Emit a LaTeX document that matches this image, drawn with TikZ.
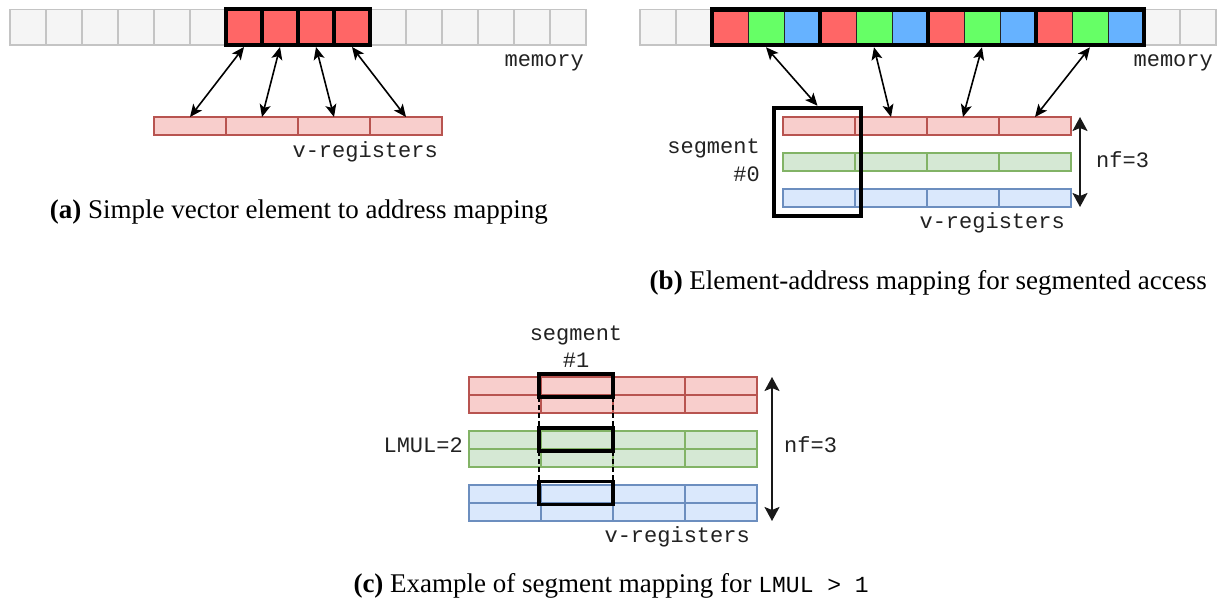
\documentclass[tikz,border=0pt]{standalone}
\usepackage{fontspec}
\setmainfont{Liberation Serif}
\newfontfamily\monof{Liberation Mono}
\usetikzlibrary{arrows.meta}
\definecolor{memfill}{HTML}{F5F5F5}
\definecolor{memdraw}{HTML}{C4C4C4}
\definecolor{hr}{HTML}{FF6666}
\definecolor{hg}{HTML}{66FF66}
\definecolor{hb}{HTML}{66B2FF}
\definecolor{rf}{HTML}{F8CECC}\definecolor{rd}{HTML}{B85450}
\definecolor{gf}{HTML}{D5E8D4}\definecolor{gd}{HTML}{82B366}
\definecolor{bf}{HTML}{DAE8FC}\definecolor{bd}{HTML}{6C8EBF}
\definecolor{txt}{HTML}{222222}
\begin{document}
\begin{tikzpicture}[x=1pt,y=-1pt,
  memcell/.style={draw=memdraw, fill=memfill, line width=1.3pt, minimum width=36pt, minimum height=35.5pt, inner sep=0pt, outer sep=0pt},
  hicell/.style={draw=black, line width=4pt, fill=#1, minimum width=36pt, minimum height=35.5pt, inner sep=0pt},
  segcell/.style={draw=black!85, line width=1pt, fill=#1, minimum width=36pt, minimum height=35.5pt, inner sep=0pt},
  grpbox/.style={draw=black, line width=4.5pt, minimum width=108pt, minimum height=35.5pt, inner sep=0pt},
  vreg/.style n args={2}{draw=#2, fill=#1, line width=1.2pt, minimum width=72pt, minimum height=18pt, inner sep=0pt, outer sep=0pt},
  segbox/.style={draw=black, line width=4.5pt, inner sep=0pt},
  segsmall/.style={draw=black, line width=3.5pt, minimum width=74pt, minimum height=23pt, inner sep=0pt, outer sep=0pt},
  maparrow/.style={{Stealth[length=12.5pt,width=11pt,inset=3pt]}-{Stealth[length=12.5pt,width=11pt,inset=3pt]}, line width=1.6pt},
  nfarrow/.style={{Stealth[length=14pt,width=15pt,inset=3pt]}-{Stealth[length=14pt,width=15pt,inset=3pt]}, line width=2pt, draw=black!90},
  dashline/.style={line width=1.8pt, dash pattern=on 5pt off 3pt},
  lbl/.style={font=\monof\fontsize{22}{27.7}\selectfont, text=txt, inner sep=0pt},
  captext/.style={font=\fontsize{27}{31}\selectfont, inner sep=0pt}
]
\useasboundingbox (0,0) rectangle (1221,609);

% ---------------- (a) ----------------
\foreach \i in {0,...,15} \node[memcell] (ma\i) at ({28+36*\i},27.25) {};
\node[hicell=hr] (ra0) at (244,27.25) {};
\node[hicell=hr] (ra1) at (280,27.25) {};
\node[hicell=hr] (ra2) at (316,27.25) {};
\node[hicell=hr] (ra3) at (352,27.25) {};
\foreach \i in {0,...,3} \node[vreg={rf}{rd}] (va\i) at ({190+72*\i},126) {};
\foreach \i in {0,...,3} \draw[maparrow] (ra\i.south) -- (va\i.north);
\node[lbl, anchor=base east] (memA) at (584,67) {memory};
\node[lbl, anchor=base east] (vrA) at (438,158) {v-registers};
\node[captext, anchor=base east] (capA) at (548,219) {\textbf{(a)} Simple vector element to address mapping};

% ---------------- (b) ----------------
\foreach \i in {0,...,15} \node[memcell] (mb\i) at ({658+36*\i},27.25) {};
\foreach \g in {0,...,3} {
  \node[segcell=hr] (sr\g) at ({730+108*\g},27.25) {};
  \node[segcell=hg] (sg\g) at ({766+108*\g},27.25) {};
  \node[segcell=hb] (sb\g) at ({802+108*\g},27.25) {};
  \node[grpbox] (grp\g) at ({766+108*\g},27.25) {};
}
\foreach \i in {0,...,3} {
  \node[vreg={rf}{rd}] (vbr\i) at ({819+72*\i},126) {};
  \node[vreg={gf}{gd}] (vbg\i) at ({819+72*\i},162) {};
  \node[vreg={bf}{bd}] (vbb\i) at ({819+72*\i},198) {};
}
\node[segbox, minimum width=87pt, minimum height=108pt] (seg0) at (817.5,162) {};
\draw[maparrow] (grp0.south) -- (seg0.north);
\draw[maparrow] (grp1.south) -- (vbr1.north);
\draw[maparrow] (grp2.south) -- (vbr2.north);
\draw[maparrow] (grp3.south) -- (vbr3.north);
\coordinate (nfbT) at (1080,117);
\coordinate (nfbB) at (1080,207);
\draw[nfarrow] (nfbT) -- (nfbB);
\node[lbl, anchor=base west] (nfB) at (1096,168) {nf=3};
\node[lbl, anchor=base east] (memB) at (1213,67) {memory};
\node[lbl, anchor=base east] (vrB) at (1065,229) {v-registers};
\node[lbl, anchor=base east] (segB1) at (760,154) {segment};
\node[lbl, anchor=base east] (segB2) at (760,181.7) {\#0};
\node[captext, anchor=base east] (capB) at (1207,290) {\textbf{(b)} Element-address mapping for segmented access};

% ---------------- (c) ----------------
\foreach \i in {0,...,3} {
  \node[vreg={rf}{rd}] (cr1\i) at ({505+72*\i},386) {};
  \node[vreg={rf}{rd}] (cr2\i) at ({505+72*\i},404) {};
  \node[vreg={gf}{gd}] (cg1\i) at ({505+72*\i},440) {};
  \node[vreg={gf}{gd}] (cg2\i) at ({505+72*\i},458) {};
  \node[vreg={bf}{bd}] (cb1\i) at ({505+72*\i},494) {};
  \node[vreg={bf}{bd}] (cb2\i) at ({505+72*\i},512) {};
}
\node[segsmall] (s1r) at (576,385.5) {};
\node[segsmall] (s1g) at (576,439.5) {};
\node[segsmall] (s1b) at (576,493) {};
\draw[dashline] (s1r.south west) -- (s1g.north west);
\draw[dashline] (s1r.south east) -- (s1g.north east);
\draw[dashline] (s1g.south west) -- (s1b.north west);
\draw[dashline] (s1g.south east) -- (s1b.north east);
\coordinate (nfcT) at (772,377);
\coordinate (nfcB) at (772,521);
\draw[nfarrow] (nfcT) -- (nfcB);
\node[lbl, anchor=base] (segC1) at (576,341) {segment};
\node[lbl, anchor=base] (segC2) at (576,368) {\#1};
\node[lbl, anchor=base east] (lmul) at (463,453) {LMUL=2};
\node[lbl, anchor=base west] (nfC) at (784,453) {nf=3};
\node[lbl, anchor=base east] (vrC) at (750,542) {v-registers};
\node[captext, anchor=base east] (capC) at (869,592) {\textbf{(c)} Example of segment mapping for {\monof\fontsize{23}{28}\selectfont LMUL > 1}};
\end{tikzpicture}
\end{document}
